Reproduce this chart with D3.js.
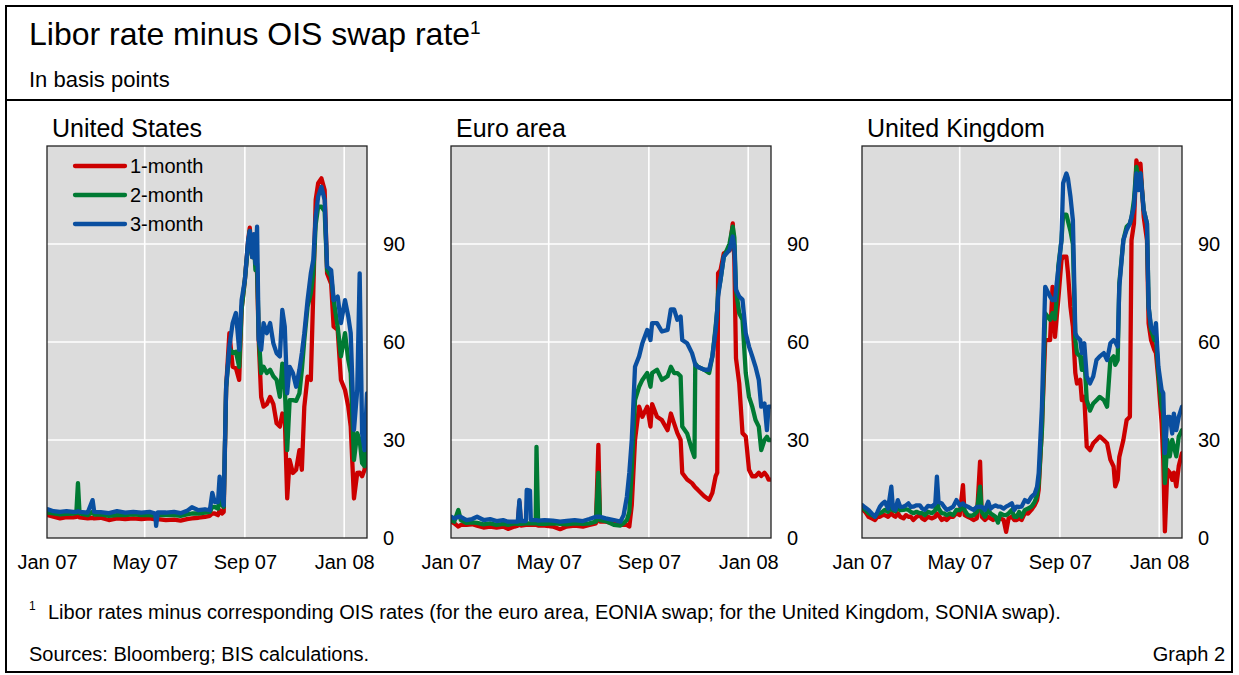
<!DOCTYPE html>
<html>
<head>
<meta charset="utf-8">
<script src="https://cdn.jsdelivr.net/npm/d3@7"></script>
<style>
  body { margin: 0; background: #fff; }
  svg { display: block; }
  text { font-family: "Liberation Sans", Arial, Helvetica, sans-serif; fill: #000; }
</style>
</head>
<body>
<svg id="chart" width="1239" height="675"></svg>
<script>
// ---------- data ----------
const panelTitles = ["United States", "Euro area", "United Kingdom"];
const seriesNames = ["1-month", "2-month", "3-month"];
const xTickLabels = ["Jan 07", "May 07", "Sep 07", "Jan 08"];
const xTickDates = ["2007-01-01", "2007-05-01", "2007-09-01", "2008-01-01"];
const yTicks = [0, 30, 60, 90];

const usDates = ["2007-01-02","2007-01-09","2007-01-17","2007-01-25","2007-02-02","2007-02-06","2007-02-08","2007-02-10","2007-02-20","2007-02-26",
"2007-02-28","2007-03-08","2007-03-18","2007-03-28","2007-04-07","2007-04-17","2007-04-27","2007-05-07","2007-05-14","2007-05-15",
"2007-05-17","2007-05-27","2007-06-06","2007-06-14","2007-06-22","2007-06-28","2007-07-06","2007-07-14","2007-07-20","2007-07-23",
"2007-07-26","2007-07-30","2007-08-01","2007-08-04","2007-08-06","2007-08-09","2007-08-13","2007-08-17","2007-08-21","2007-08-25",
"2007-08-28","2007-09-01","2007-09-05","2007-09-07","2007-09-10","2007-09-12","2007-09-14","2007-09-16","2007-09-18","2007-09-21",
"2007-09-24","2007-09-28","2007-10-02","2007-10-06","2007-10-10","2007-10-14","2007-10-17","2007-10-20","2007-10-23","2007-10-26",
"2007-10-30","2007-11-03","2007-11-07","2007-11-10","2007-11-13","2007-11-17","2007-11-21","2007-11-24","2007-11-27","2007-11-30",
"2007-12-04","2007-12-08","2007-12-11","2007-12-16","2007-12-19","2007-12-24","2007-12-28","2008-01-02","2008-01-06","2008-01-09",
"2008-01-13","2008-01-17","2008-01-20","2008-01-23","2008-01-26","2008-01-29"];
const us1m = [7,6.5,6,6.4,6.3,6.5,6.6,6.3,6,6.2,
6,6.2,5.5,6,5.8,6,5.8,6,5.7,5.5,
5.8,5.5,5.6,5.3,5.8,6,6.2,6.5,6.8,7.5,
7.5,7,8.5,7.5,8,46,62.7,52.4,52,48.4,
70,79,91,95,86,92,84,81,60.6,43.2,
40.2,41,43.2,41,35.1,34.1,38.1,37.1,12.1,23.9,
19.9,20.9,26.9,20.9,40.2,49.4,48.4,75,103.5,108.6,
110.1,106.5,81,77.8,64.7,63.7,48.4,45.3,40.2,34.1,
12.1,19.9,20,18.9,20.9,26.9];
const us2m = [7.8,7.5,7.2,7.4,7.5,7.6,16.8,7.5,7,8,
7.2,7.2,6.8,7,7,7.2,7,7,6.8,6.6,
7,7,7,6.8,7.2,7.5,7.5,7.8,8,9.5,
9.5,9,12,10,9.5,46,58,56.6,57,52.4,
70,79,90,94,86,91,82,84,62,50.5,
52.4,50.5,51.5,49.5,48.4,43.2,53.4,46.3,26.9,42.2,
42.2,42,44.3,51.5,60.6,70.8,74.9,81,96,101.4,
101.4,100,82,80,72.8,64.7,55.6,62.7,54.5,50.5,
23.9,32.1,30,22.9,22,38.1];
const us3m = [8.8,8.2,8,8.2,8,8,8.2,8,7.8,11.6,
8,7.9,7.6,8.2,7.8,8,7.8,8,7.5,3.7,
7.8,7.8,8,7.6,8.3,9.4,8.5,8.8,8.5,13.8,
11,11,18.8,13,10,46.3,58.6,65.8,68.9,57.6,
72.8,79,91,94,86,93,84,95.3,60.6,57.6,
65.8,62.7,65.8,59.6,56.6,55.6,69.8,64.7,44.3,52.4,
50.5,46.3,51.5,56.6,62.7,72.8,81,85.1,98.3,104.5,
107.5,103.5,83,82,72.8,73.9,65.8,72.8,67.8,62.7,
33.1,45.3,81,32.1,26.9,44.3];

const euDates = ["2007-01-01","2007-01-05","2007-01-10","2007-01-13","2007-01-20","2007-01-27","2007-02-02","2007-02-10","2007-02-18","2007-02-26",
"2007-03-06","2007-03-12","2007-03-20","2007-03-24","2007-03-26","2007-03-28","2007-04-03","2007-04-04","2007-04-08","2007-04-09",
"2007-04-15","2007-04-16","2007-04-18","2007-04-26","2007-05-06","2007-05-15","2007-05-23","2007-06-02","2007-06-12","2007-06-20",
"2007-06-28","2007-07-01","2007-07-03","2007-07-10","2007-07-20","2007-07-28","2007-08-01","2007-08-05","2007-08-08","2007-08-11",
"2007-08-15","2007-08-20","2007-08-24","2007-08-30","2007-09-03","2007-09-05","2007-09-11","2007-09-17","2007-09-24","2007-09-28",
"2007-10-02","2007-10-06","2007-10-10","2007-10-12","2007-10-18","2007-10-24","2007-10-27","2007-10-28","2007-10-31","2007-11-08",
"2007-11-14","2007-11-18","2007-11-22","2007-11-24","2007-11-25","2007-11-28","2007-12-02","2007-12-09","2007-12-13","2007-12-15",
"2007-12-17","2007-12-21","2007-12-25","2007-12-29","2008-01-02","2008-01-06","2008-01-10","2008-01-14","2008-01-17","2008-01-21",
"2008-01-24","2008-01-26","2008-01-29"];
const eu1m = [5,4.5,3.5,4,4,4.2,3.8,3.2,3.5,3.2,
3.5,2.8,3.5,3.8,11,3.8,4,4,4,4,
4,4,3.8,3.8,3.5,2.7,3.5,3.8,3.5,4,
4.5,28.5,5,5,4.5,4,4,4,3.5,10,
30,40.2,37.1,40.2,34.1,41,37.1,36.1,33,38.1,
35.1,32.1,30,19.9,17.9,16.8,15.8,15.5,14.8,12.8,
11.7,13.8,18.9,20,81,82,87.1,88,96.3,85,
55,47.3,32.1,31.1,20.9,18.9,18.9,20,19,20,
19,17.9,17.9];
const eu2m = [5.5,5,8.6,5.5,4.6,4.8,4.6,4.2,4.5,4,
4.3,4,4.5,4.3,4.5,4.3,4.5,4.5,4.5,4.5,
4.5,27.9,4.3,4.3,4.5,4.3,4.2,4.5,4.3,4.5,
5,19.9,5.5,5.2,4,3.8,4.5,5.5,8,20.9,
42.2,46.3,48.4,50.5,46.3,50.5,51.5,48.4,49.5,52.4,
50.5,50.5,49.5,34.1,32,26.9,24.8,53.4,52.4,51.5,
50.5,55.6,64.7,70,75,79,86,90,95.3,92,
76,68.8,66.8,50.5,43.2,40.2,36.1,34.1,26.9,30,
31,30,30];
const eu3m = [6.5,6,6.5,6.5,5.5,5.8,6.5,5.5,5.8,5.2,
5.5,5,5,5,11.6,5.2,5.2,14.7,14.5,5.5,
5.5,5.5,5.3,5.5,5.3,5,5.2,5.5,5.2,5.8,
6.5,6.5,6.5,6,5.5,5,7,12.6,20,30,
52.4,55.6,59.6,63.7,60.6,65.8,65.8,63.2,63.7,70,
70,66.8,67.8,60.6,59.6,56.6,54,53,52.4,51.5,
51.5,55.6,63.7,70,73.9,79,86.1,88.2,92.3,89.2,
76,73.9,73,62.7,58.6,55.6,52.4,48.4,40.2,41.2,
33,40.2,40.2];

const ukDates = ["2007-01-01","2007-01-05","2007-01-09","2007-01-13","2007-01-17","2007-01-20","2007-01-23","2007-01-26","2007-01-29","2007-02-02",
"2007-02-06","2007-02-08","2007-02-11","2007-02-14","2007-02-17","2007-02-21","2007-02-24","2007-02-27","2007-03-02","2007-03-05",
"2007-03-09","2007-03-13","2007-03-16","2007-03-19","2007-03-23","2007-03-28","2007-04-01","2007-04-03","2007-04-05","2007-04-09",
"2007-04-12","2007-04-15","2007-04-19","2007-04-23","2007-04-27","2007-05-01","2007-05-05","2007-05-07","2007-05-11","2007-05-15",
"2007-05-18","2007-05-22","2007-05-26","2007-05-28","2007-06-01","2007-06-05","2007-06-08","2007-06-11","2007-06-14","2007-06-17",
"2007-06-20","2007-06-24","2007-06-27","2007-06-30","2007-07-04","2007-07-07","2007-07-10","2007-07-13","2007-07-16","2007-07-20",
"2007-07-24","2007-07-28","2007-08-01","2007-08-04","2007-08-06","2007-08-10","2007-08-14","2007-08-20","2007-08-23","2007-08-26",
"2007-08-29","2007-08-30","2007-09-03","2007-09-05","2007-09-09","2007-09-11","2007-09-14","2007-09-17","2007-09-20","2007-09-22",
"2007-09-26","2007-09-28","2007-10-01","2007-10-04","2007-10-08","2007-10-12","2007-10-16","2007-10-20","2007-10-25","2007-10-29",
"2007-11-02","2007-11-06","2007-11-08","2007-11-11","2007-11-13","2007-11-18","2007-11-22","2007-11-26","2007-11-28","2007-12-01",
"2007-12-04","2007-12-07","2007-12-09","2007-12-13","2007-12-17","2007-12-19","2007-12-22","2007-12-26","2007-12-28","2007-12-31",
"2008-01-04","2008-01-06","2008-01-08","2008-01-11","2008-01-14","2008-01-17","2008-01-19","2008-01-22","2008-01-25","2008-01-29"];
const uk1m = [9,8,6.5,6,5.5,6.5,6.5,7,7,6.5,
7.6,7,6.5,7.6,6.5,6,7,6.5,6.5,5.5,
6.5,7,6,5.5,6.5,6,6.5,7.5,7,5.5,
6,5.5,6.5,6.5,7.6,7,16.2,7,6.5,6,
5.5,6,23.4,6.5,5.5,6.5,6,5.5,6,5.5,
6,5.5,1.9,6,6.5,5.5,5.5,6,5.5,7.6,
7.5,8.6,10,11.6,14.8,34,60.6,60.6,76.9,61.6,
70,72.8,85.1,86.1,86.1,81,70.8,64.7,50.5,47.3,
48.4,42.2,43.2,28,26.9,29,30,31.1,30,29,
24,21.9,15.8,17.8,24.8,30,36.1,37.1,91.2,96.3,
115.6,111.6,114.6,98.3,91.2,65.7,60.6,57.6,56.6,48.4,
35.1,24,2,20.9,20,17.8,20,15.8,22,26];
const uk2m = [9.6,8.6,7.6,7,6.5,7.5,7.6,8,8.6,8,
9.6,8.5,8.2,9.6,8.5,8.6,8.8,8.6,8,7.6,
8,7.6,7.6,7,8,7.6,8.5,13.8,9,7.6,
7.5,7,7.5,7,8.6,8.5,9.6,8.5,7,6.8,
7,8,15.7,8,6.5,8.6,7.5,7,6.5,4.7,
7.5,7,7,7.5,8.6,6.5,6.5,8,6.5,8.6,
9,9.6,11,13,16.8,33,68.8,66.8,68.8,67,
76,83,91.2,99,99,97,94,90,60.6,56.6,
55.6,51.5,55.6,42.2,39,41.2,42.2,43.2,42.2,40.2,
54.5,55.6,53,54.5,78,91.2,95.3,96.3,98,103.5,
113.6,109.6,111.6,100.4,96.3,70.8,63.7,60.6,61.6,50.5,
40.2,38.1,16.8,30,25,30,28,25,31,33];
const uk3m = [10.1,9.3,8.6,7.5,6.5,8,9.6,10.5,11.1,9,
15.7,9,8.6,11.6,9.5,9.6,10,10.6,9.5,9.6,
10,10,9,8.6,9.8,9.6,10.5,18.8,11,10.6,
9.5,8.6,9,9.6,11.6,10,10.6,10,9.6,9,
8.6,9.5,9.6,9.5,8.6,11.1,9,9.6,10,9.6,
9.6,9,9.6,10,10.6,8.6,9.6,9.5,9.6,11.6,
11,12.6,13.5,15.7,19.9,40.2,76.9,73.9,72.8,72.8,
80,82,91.2,108.6,111.6,110,104.5,97.3,62.7,61.6,
60.6,56.6,59.6,49.5,47.3,49.5,54.5,55.6,56.6,54.5,
59.6,60.6,60,58.6,76.9,91.2,94.3,96.3,98.3,101.4,
111.6,106.5,111.6,100.4,96.3,70.8,64.7,62.7,65.8,52.4,
45.3,44.3,26,37.1,37.1,32,38.1,33,37.1,40.2];

// ---------- layout ----------
const svg = d3.select("#chart");
const parse = d3.utcParse("%Y-%m-%d");
const colors = ["#cc0000", "#007a33", "#0a4fa0"];
const plotW = 320, plotH = 392, plotTop = 146;
const panelLefts = [47, 451, 862];

const panels = [
  { title: panelTitles[0], dates: usDates, series: [us1m, us2m, us3m] },
  { title: panelTitles[1], dates: euDates, series: [eu1m, eu2m, eu3m] },
  { title: panelTitles[2], dates: ukDates, series: [uk1m, uk2m, uk3m] }
];

const x = d3.scaleUtc().domain([parse("2007-01-01"), parse("2008-01-29")]).range([0, plotW]);
const y = d3.scaleLinear().domain([0, 120]).range([plotH, 0]);
const tickDates = xTickDates.map(parse);

// outer frame
svg.append("rect").attr("x", 6).attr("y", 6).attr("width", 1226).attr("height", 666)
  .attr("fill", "none").attr("stroke", "#000").attr("stroke-width", 2);
svg.append("line").attr("x1", 6).attr("x2", 1232).attr("y1", 100).attr("y2", 100)
  .attr("stroke", "#000").attr("stroke-width", 2);

// title
const t = svg.append("text").attr("x", 29).attr("y", 45).attr("font-size", 32);
t.append("tspan").text("Libor rate minus OIS swap rate");
t.append("tspan").attr("font-size", 19).attr("dy", -11).text("1");
svg.append("text").attr("x", 29).attr("y", 87).attr("font-size", 22).text("In basis points");

// footer
svg.append("text").attr("x", 29).attr("y", 610).attr("font-size", 12).text("1");
svg.append("text").attr("x", 48).attr("y", 619).attr("font-size", 20)
  .text("Libor rates minus corresponding OIS rates (for the euro area, EONIA swap; for the United Kingdom, SONIA swap).");
svg.append("text").attr("x", 29).attr("y", 661).attr("font-size", 20).text("Sources: Bloomberg; BIS calculations.");
svg.append("text").attr("x", 1225).attr("y", 661).attr("font-size", 20).attr("text-anchor", "end").text("Graph 2");

const line = d3.line().x(d => x(d[0])).y(d => y(d[1]));

panels.forEach((p, pi) => {
  const g = svg.append("g").attr("transform", `translate(${panelLefts[pi]},${plotTop})`);
  const clipId = "clip" + pi;
  g.append("clipPath").attr("id", clipId).append("rect").attr("width", plotW).attr("height", plotH);

  g.append("rect").attr("width", plotW).attr("height", plotH).attr("fill", "#dcdcdc");

  // grid
  g.selectAll(".hg").data(yTicks.filter(v => v > 0)).join("line")
    .attr("x1", 0).attr("x2", plotW).attr("y1", d => y(d)).attr("y2", d => y(d))
    .attr("stroke", "#fff").attr("stroke-width", 1.6);
  g.selectAll(".vg").data(tickDates.slice(1)).join("line")
    .attr("y1", 0).attr("y2", plotH).attr("x1", d => x(d)).attr("x2", d => x(d))
    .attr("stroke", "#fff").attr("stroke-width", 1.6);

  // series
  const dates = p.dates.map(parse);
  const lg = g.append("g").attr("clip-path", `url(#${clipId})`);
  p.series.forEach((vals, si) => {
    lg.append("path").datum(dates.map((d, i) => [d, vals[i]]))
      .attr("d", line).attr("fill", "none").attr("stroke", colors[si])
      .attr("stroke-width", 4.3).attr("stroke-linejoin", "round").attr("stroke-linecap", "round");
  });

  // border
  g.append("rect").attr("width", plotW).attr("height", plotH)
    .attr("fill", "none").attr("stroke", "#222").attr("stroke-width", 1.3);

  // axes
  const ya = g.append("g").attr("transform", `translate(${plotW},0)`)
    .call(d3.axisRight(y).tickValues(yTicks).tickSize(0).tickPadding(16));
  ya.select(".domain").remove();
  ya.selectAll("text").attr("font-size", 20).attr("font-family", null).style("font-family", "'Liberation Sans', Arial, sans-serif");

  const xa = g.append("g").attr("transform", `translate(0,${plotH})`)
    .call(d3.axisBottom(x).tickValues(tickDates).tickFormat((d, i) => xTickLabels[i]).tickSize(0).tickPadding(17));
  xa.select(".domain").remove();
  xa.selectAll("text").attr("font-size", 20).attr("font-family", null).style("font-family", "'Liberation Sans', Arial, sans-serif");

  // panel title
  g.append("text").attr("x", 5).attr("y", -9).attr("font-size", 25).text(p.title);

  // legend (first panel only)
  if (pi === 0) {
    seriesNames.forEach((name, si) => {
      const ly = 20 + si * 29;
      g.append("line").attr("x1", 28).attr("x2", 78).attr("y1", ly).attr("y2", ly)
        .attr("stroke", colors[si]).attr("stroke-width", 4.3).attr("stroke-linecap", "round");
      g.append("text").attr("x", 83).attr("y", ly).attr("dy", "0.36em").attr("font-size", 20).text(name);
    });
  }
});
</script>
</body>
</html>
